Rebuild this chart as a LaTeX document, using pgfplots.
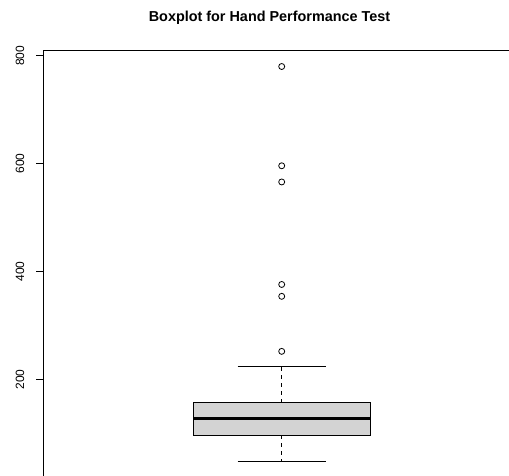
\documentclass[border=0pt]{standalone}
\usepackage{fontspec}
\setmainfont{Liberation Sans}
\usepackage{pgfplots}
\pgfplotsset{compat=1.18}
\definecolor{rlightgray}{HTML}{D3D3D3}
\begin{document}
\begin{tikzpicture}
\useasboundingbox (0,0) rectangle (509pt,475pt);
\clip (0,0) rectangle (509pt,475pt);
\node[anchor=base, font=\bfseries\fontsize{14.4}{14.4}\selectfont] at (269.5pt,453pt) {Boxplot for Hand Performance Test};
\begin{axis}[
  at={(43.3pt,-1.9pt)}, anchor=south west,
  scale only axis, width=476.8pt, height=426.2pt,
  xmin=0.5, xmax=1.5, ymin=19.3, ymax=809.3,
  xtick=\empty, ytick={200,400,600,800}, ytick pos=left,
  tick align=outside, major tick length=7.2pt,
  axis line style={line width=0.8pt},
  tick style={black, line width=0.8pt},
  /pgf/number format/assume math mode=true,
  yticklabel style={xshift=-11.6pt, rotate=90, anchor=south, inner sep=0pt,
    font=\fontsize{12}{12}\selectfont},
]
% box (lower quartile 96.2, upper quartile 156.6)
\addplot[draw=black, fill=rlightgray, line width=0.8pt, line join=miter, mark=none]
  coordinates {(0.815,96.2) (1.185,96.2) (1.185,156.6) (0.815,156.6) (0.815,96.2)};
% median
\addplot[black, line width=3pt, mark=none] coordinates {(0.815,128.3) (1.185,128.3)};
% whiskers
\addplot[black, line width=0.8pt, dash pattern=on 4pt off 4pt, mark=none]
  coordinates {(1,156.6) (1,223.4)};
\addplot[black, line width=0.8pt, dash pattern=on 4pt off 4pt, mark=none]
  coordinates {(1,96.2) (1,48.6)};
% staples
\addplot[black, line width=0.8pt, mark=none] coordinates {(0.9075,223.4) (1.0925,223.4)};
\addplot[black, line width=0.8pt, mark=none] coordinates {(0.9075,48.6) (1.0925,48.6)};
% outliers
\addplot[only marks, mark=o, mark size=3pt, mark options={black, line width=0.8pt}]
  coordinates {(1,780) (1,596) (1,566) (1,376) (1,354) (1,252)};
\end{axis}
\end{tikzpicture}
\end{document}
